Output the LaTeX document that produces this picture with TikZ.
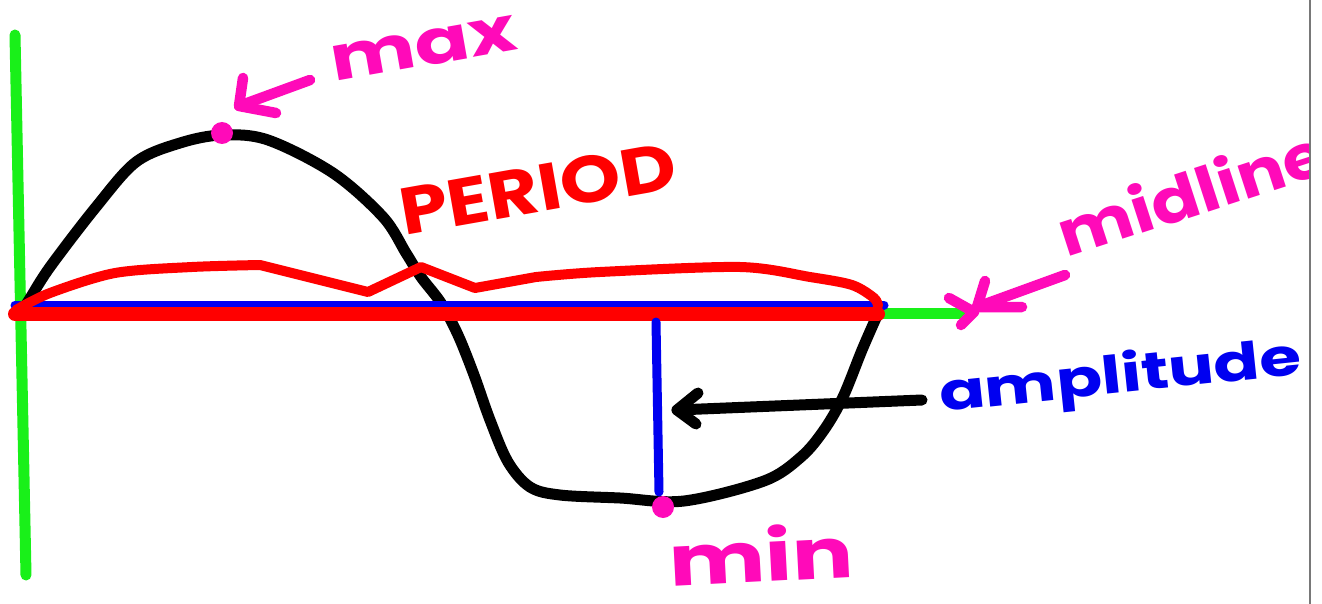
\documentclass[tikz,border=0pt]{standalone}
\usepackage{fontspec}
\usepackage{graphicx}
\newfontfamily\hand{Poppins}
\definecolor{mygreen}{RGB}{25,240,25}
\definecolor{myred}{RGB}{255,0,0}
\definecolor{myblue}{RGB}{0,0,240}
\definecolor{mypink}{RGB}{255,10,185}
\definecolor{mygray}{RGB}{120,120,120}
\begin{document}
\begin{tikzpicture}[x=1pt,y=-1pt,line cap=round,line join=round,
  axisline/.style={mygreen,line width=11pt},
  curveline/.style={black,line width=11pt},
  redline/.style={myred,line width=10pt},
  pinkline/.style={mypink,line width=10.5pt},
  blueline/.style={myblue,line width=9pt},
  dotmark/.style={circle,fill=mypink,inner sep=0pt,minimum size=22pt},
  lbl/.style={inner sep=0pt,anchor=base west,font=\hand\bfseries}]
\useasboundingbox (0,0) rectangle (1322,604);
\fill[white] (0,0) rectangle (1322,604);
% axes
\coordinate (ytop) at (15,35);
\coordinate (ybot) at (26,575);
\coordinate (orig) at (15,313);
\coordinate (xend) at (968,313);
\draw[axisline] (ytop) -- (ybot);
\draw[axisline] (orig) -- (xend);
% sine curve
\draw[curveline] plot[smooth,tension=0.55] coordinates {(21,312) (29,300) (50,267) (96,207) (136,162) (180,143) (222,135) (268,140) (333,173) (383,217) (406,253) (421,277) (441,303) (458,335) (474,375) (490,420) (508,462) (530,487) (560,495) (620,498) (684,501) (764,481) (801,457) (824,430) (843,397) (862,350) (876,318)};
% midline (blue) and period (red)
\coordinate (bl) at (15,305);
\coordinate (br) at (884,305);
\coordinate (rl) at (15,314);
\coordinate (rr) at (878,314);
\draw[blueline] (bl) -- (br);
\draw[myred,line width=14pt] (rl) -- (rr);
\draw[redline] plot[smooth,tension=0.5] coordinates {(16,310) (50,293) (115,273) (192,267) (260,265)} -- (368,292) -- (421,267) -- (475,288) -- plot[smooth,tension=0.5] coordinates {(536,277) (600,272) (740,267) (810,277) (852,285) (874,298) (878,306)};
% amplitude line
\coordinate (at) at (656,322);
\coordinate (ab) at (659,492);
\draw[blueline] (at) -- (ab);
% dots
\node[dotmark] (maxdot) at (222,133) {};
\node[dotmark] (mindot) at (663,507) {};
% max arrow
\coordinate (mxs) at (310,80);
\coordinate (mxt) at (239,106);
\coordinate (mxb1) at (243,78);
\coordinate (mxb2) at (276,113);
\draw[pinkline] (mxs) -- (mxt);
\draw[pinkline] (mxb1) -- (mxt) -- (mxb2);
% midline arrow and axis chevron
\coordinate (mds) at (1065,275);
\coordinate (mdt) at (977,307);
\coordinate (mdb1) at (985,281);
\coordinate (mdb2) at (1022,307);
\draw[pinkline] (mds) -- (mdt);
\draw[pinkline] (mdb1) -- (mdt) -- (mdb2);
\coordinate (ch1) at (949,298);
\coordinate (ch2) at (974,312);
\coordinate (ch3) at (961,325);
\draw[pinkline] (ch1) -- (ch2) -- (ch3);
% amplitude arrow
\coordinate (ams) at (922,400);
\coordinate (amt) at (677,410);
\coordinate (amb1) at (698,393);
\coordinate (amb2) at (696,424);
\draw[curveline] (ams) -- (amt);
\draw[curveline] (amb1) -- (amt) -- (amb2);
% labels
\node[lbl,text=mypink,rotate=10,font=\hand\bfseries\fontsize{62}{66}\selectfont] (maxl) at (334,82) {\scalebox{1.3}[1]{max}};
\node[lbl,text=myred,rotate=10,font=\hand\bfseries\fontsize{66}{70}\selectfont] (perl) at (404,236) {\scalebox{1.17}[1]{PERIOD}};
\begin{scope}
\clip (0,0) rectangle (1308,604);
\node[lbl,text=mypink,rotate=18,font=\hand\bfseries\fontsize{62}{66}\selectfont] (midl) at (1066,258) {\scalebox{1.15}[1]{midline}};
\end{scope}
\node[lbl,text=myblue,rotate=6,font=\hand\bfseries\fontsize{52}{56}\selectfont] (ampl) at (941,412) {\scalebox{1.3}[1]{amplitude}};
\node[lbl,text=mypink,rotate=3,font=\hand\bfseries\fontsize{70}{74}\selectfont] (minl) at (670,587) {\scalebox{1.3}[1]{min}};
% right border
\coordinate (gt) at (1309.5,0);
\coordinate (gb) at (1309.5,604);
\draw[mygray,line width=2pt,line cap=butt] (gt) -- (gb);
\end{tikzpicture}
\end{document}
